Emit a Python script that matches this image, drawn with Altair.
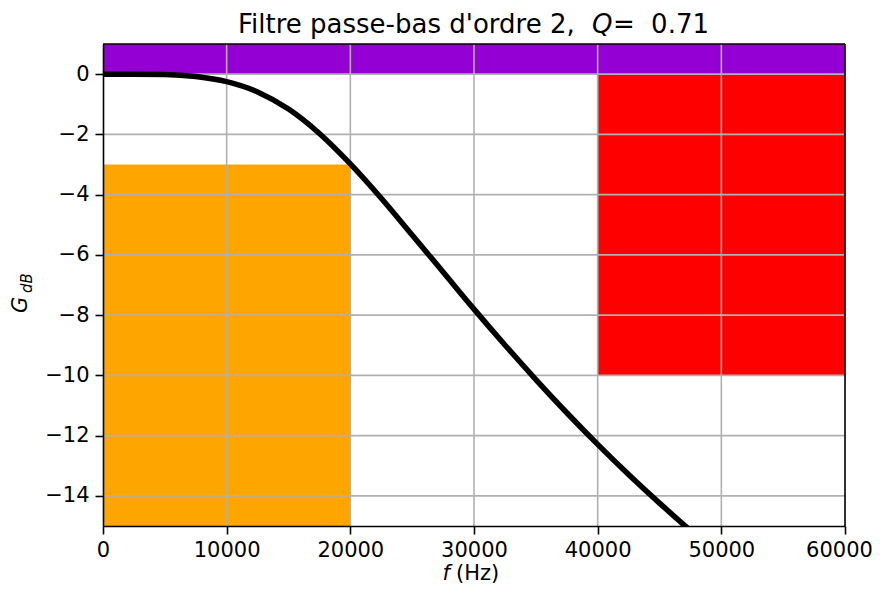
import altair as alt
import pandas as pd

# Curve (frequency in Hz, gain in dB)
freq = [0, 2500, 5000, 7500, 10000, 12500, 15000, 17500, 20000, 22500, 25000,
        27500, 30000, 32500, 35000, 37500, 40000, 42500, 45000, 47500, 50000]
gain = [0.00, 0.00, -0.01, -0.08, -0.25, -0.59, -1.16, -1.97, -2.98, -4.12, -5.34,
        -6.57, -7.80, -8.99, -10.14, -11.24, -12.29, -13.29, -14.24, -15.15, -16.02]

# Template rectangles
rect_x = [0, 0, 40000]
rect_x2 = [60000, 20000, 60000]
rect_y = [0, -15, -10]
rect_y2 = [1, -3, 0]
rect_color = ["#9400d3", "#ffa500", "#ff0000"]

x_ticks = [0, 10000, 20000, 30000, 40000, 50000, 60000]
y_ticks = [0, -2, -4, -6, -8, -10, -12, -14]

W, H = 742, 482
FONT = "DejaVu Sans"

xs = alt.Scale(domain=[0, 60000], nice=False, zero=False)
ys = alt.Scale(domain=[-15, 1], nice=False, zero=False)

axis_common = dict(
    grid=False, domainColor="black", domainWidth=1.6, tickColor="black",
    tickWidth=1.6, tickSize=8, labelFont=FONT, labelFontSize=21,
    labelColor="black", title=None, labelFlush=False, format="d", zindex=1,
)
x_axis = alt.Axis(
    values=x_ticks, labelPadding=5,
    labelOffset={"condition": {"test": "datum.value == 60000", "value": -6}, "value": 0},
    **axis_common,
)
y_axis = alt.Axis(values=y_ticks, labelPadding=6, **axis_common)

rects = pd.DataFrame({"x": rect_x, "x2": rect_x2, "y": rect_y, "y2": rect_y2, "c": rect_color})
curve = pd.DataFrame({"f": freq, "g": gain})
vgrid = pd.DataFrame({"v": x_ticks[1:-1]})
hgrid = pd.DataFrame({"v": y_ticks})

rect_layer = alt.Chart(rects).mark_rect().encode(
    x=alt.X("x:Q", scale=xs, axis=x_axis),
    x2="x2:Q",
    y=alt.Y("y:Q", scale=ys, axis=y_axis),
    y2="y2:Q",
    color=alt.Color("c:N", scale=None),
)

vgrid_layer = alt.Chart(vgrid).mark_rule(color="#b0b0b0", strokeWidth=1.6).encode(
    x=alt.X("v:Q", scale=xs, axis=x_axis)
)
hgrid_layer = alt.Chart(hgrid).mark_rule(color="#b0b0b0", strokeWidth=1.6).encode(
    y=alt.Y("v:Q", scale=ys, axis=y_axis)
)

line_layer = alt.Chart(curve).mark_line(
    color="black", strokeWidth=5.5, clip=True, interpolate="monotone"
).encode(
    x=alt.X("f:Q", scale=xs, axis=x_axis),
    y=alt.Y("g:Q", scale=ys, axis=y_axis),
)

# top and right spines of the frame
frame_top = alt.Chart(pd.DataFrame({"k": [0]})).mark_rule(color="black", strokeWidth=1.6).encode(
    x=alt.value(0), x2=alt.value(W), y=alt.value(0)
)
frame_right = alt.Chart(pd.DataFrame({"k": [0]})).mark_rule(color="black", strokeWidth=1.6).encode(
    x=alt.value(W), y=alt.value(0), y2=alt.value(H)
)

def txt(text, x, y, size=21, style="normal", align="left", angle=0):
    return alt.Chart(pd.DataFrame({"t": [text]})).mark_text(
        font=FONT, fontSize=size, fontStyle=style, align=align,
        baseline="alphabetic", color="black", angle=angle,
    ).encode(x=alt.value(x), y=alt.value(y), text="t:N")

TS = 26
title_parts = [
    txt("Filtre passe-bas d'ordre 2,", 135, -11, size=TS),
    txt("Q", 489, -11, size=TS, style="italic"),
    txt("=", 510, -11, size=TS),
    txt("0.71", 606, -11, size=TS, align="right"),
]
xlabel_parts = [
    txt("f", 347, 536, style="italic", align="right"),
    txt("(Hz)", 353, 536),
]
ylabel_parts = [
    txt("G", -76, 269, style="italic", angle=270),
    txt("dB", -71, 249, size=15, style="italic", angle=270),
]

chart = alt.layer(
    rect_layer, vgrid_layer, hgrid_layer, line_layer, frame_top, frame_right,
    *title_parts, *xlabel_parts, *ylabel_parts,
).properties(
    width=W, height=H,
    autosize=alt.AutoSizeParams(type="none"),
    padding={"left": 95, "top": 36, "right": 27, "bottom": 60},
).configure_view(
    stroke=None
).configure(background="white")

chart.save("out.html", embed_options={"renderer": "svg", "actions": False})
